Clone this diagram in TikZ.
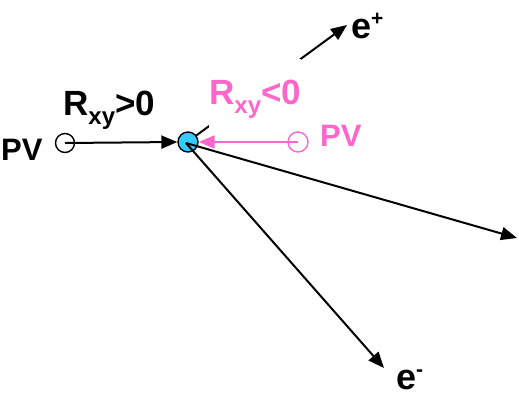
\documentclass[tikz,border=0pt]{standalone}
\usepackage{fontspec}
\setmainfont{Liberation Sans}
\usetikzlibrary{arrows.meta}
\definecolor{pvpink}{RGB}{255,102,204}
\definecolor{vtxcyan}{RGB}{51,204,255}
\newcommand{\lowsub}[1]{\raisebox{-0.28em}{\fontsize{24}{26}\selectfont#1}}
\newcommand{\chg}[1]{\raisebox{13pt}{\fontsize{21}{22}\selectfont#1}}
\tikzset{
  trk/.style={line width=2pt,-{Triangle[length=16pt,width=13pt]}},
  vtxpt/.style={circle,draw,line width=1.4pt,minimum size=19pt,inner sep=0pt},
  lbl/.style={font=\bfseries\fontsize{35}{38}\selectfont,inner sep=0pt,anchor=base west},
}
\begin{document}
\begin{tikzpicture}[x=1pt,y=-1pt]
  \useasboundingbox (0,0) rectangle (519,397);
  \coordinate (o) at (186,143);
  \coordinate (ep) at (347,25);
  \coordinate (em) at (384,368);
  \coordinate (tk) at (517,238);
  % e+ track runs behind the pink label
  \draw[trk] (o) -- (ep);
  \node[lbl,pvpink,fill=white,inner ysep=21pt] (rneg) at (209,104) {R\lowsub{xy}<0};
  \node[lbl] (rpos) at (63,115) {R\lowsub{xy}>0};
  \node[vtxpt] (pvL) at (65,143) {};
  \node[vtxpt,draw=pvpink,minimum size=20pt] (pvR) at (298,142) {};
  \node[vtxpt,fill=vtxcyan,minimum size=20pt] (vtx) at (188,142) {};
  \draw[trk] (o) -- (tk);
  \draw[trk] (o) -- (em);
  \draw[trk] (pvL.center) -- (vtx.west);
  \draw[trk,pvpink] (pvR.center) -- (vtx.east);
  \node[lbl,font=\bfseries\fontsize{31}{33}\selectfont] (pvl) at (1,160) {PV};
  \node[lbl,pvpink,font=\bfseries\fontsize{31}{33}\selectfont] (pvr) at (320,146) {PV};
  \node[lbl,font=\bfseries\fontsize{36}{38}\selectfont] (lep) at (351,38) {e\chg{+}};
  \node[lbl,font=\bfseries\fontsize{36}{38}\selectfont] (lem) at (396,389) {e\chg{-}};
\end{tikzpicture}
\end{document}
